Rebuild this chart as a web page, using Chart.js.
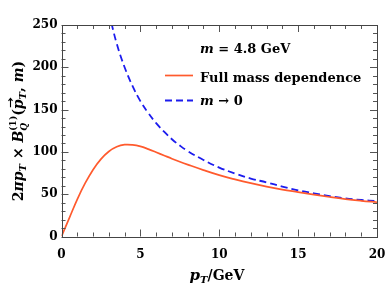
<!DOCTYPE html>
<html><head><meta charset="utf-8">
<script src="https://cdn.jsdelivr.net/npm/chart.js@4"></script>
<style>html,body{margin:0;padding:0;background:#fff}#wrap{width:386px;height:289px}</style>
</head><body><div id="wrap"><canvas id="c" width="386" height="289"></canvas></div>
<script>
// ---- data ----
const pTFull   = [0, 0.5, 1, 1.5, 2, 2.5, 3, 3.5, 4, 4.5, 5, 5.5, 6, 6.5, 7, 7.5, 8, 9, 10, 11, 12, 13, 14, 15, 16, 17, 18, 19, 20];
const fullMass = [0, 22, 44, 63, 79, 91.5, 100.5, 106, 108.5, 108.3, 106.5, 103.3, 99.6, 95.8, 92, 88.4, 85, 78.5, 72.5, 67.5, 63, 59, 55.5, 52.5, 49.5, 46.7, 44.2, 42.2, 40.5];
const pTZero   = [3, 3.5, 4, 4.5, 5, 5.5, 6, 6.5, 7, 7.5, 8, 9, 10, 11, 12, 13, 14, 15, 16, 17, 18, 19, 20];
const massless = [265, 228, 200, 178, 160, 146, 134, 124, 115, 107.5, 101, 90.5, 81.5, 74.5, 68.5, 64, 59, 54.5, 51, 47.7, 45, 43.2, 41.7];
const xTickValues = [0, 5, 10, 15, 20];
const yTickValues = [0, 50, 100, 150, 200, 250];
const seriesNames = ['Full mass dependence', 'm → 0'];
const massLabel = 'm = 4.8 GeV';

const RED = '#ff5a2d', BLUE = '#1c1cee';
const SERIF = "'DejaVu Serif'";

function drawRich(ctx, segs, x, y, align) {
  let total = 0;
  const widths = segs.map(s => {
    if (s.stack) {
      let w = 0;
      s.stack.forEach(p => { ctx.font = p.font; w = Math.max(w, ctx.measureText(p.t).width); });
      return w;
    }
    ctx.font = s.font; return ctx.measureText(s.t).width;
  });
  widths.forEach(w => total += w);
  let cx = align === 'center' ? x - total / 2 : x;
  ctx.textBaseline = 'alphabetic';
  ctx.textAlign = 'left';
  segs.forEach((s, i) => {
    if (s.stack) {
      s.stack.forEach(p => { ctx.font = p.font; ctx.fillText(p.t, cx, y + (p.dy || 0)); });
    } else {
      ctx.font = s.font;
      ctx.fillText(s.t, cx + (s.dx || 0), y + (s.dy || 0));
      if (s.arrow) {
        const w = widths[i];
        const ay = y - 12, ax0 = cx + 2, ax1 = cx + w + 1;
        ctx.save(); ctx.lineWidth = 1.1; ctx.beginPath();
        ctx.moveTo(ax0, ay); ctx.lineTo(ax1, ay);
        ctx.moveTo(ax1 - 2.5, ay - 2); ctx.lineTo(ax1, ay); ctx.lineTo(ax1 - 2.5, ay + 2);
        ctx.stroke(); ctx.restore();
      }
    }
    cx += widths[i];
  });
  return total;
}

const decor = {
  id: 'decor',
  afterDraw(chart) {
    const ctx = chart.ctx, a = chart.chartArea;
    const xs = chart.scales.x, ys = chart.scales.y;
    ctx.save();
    ctx.strokeStyle = '#555'; ctx.lineWidth = 1;
    ctx.beginPath();
    for (let v = 0; v <= 20; v++) {
      const px = Math.round(xs.getPixelForValue(v)) + 0.5;
      const len = v % 5 === 0 ? 7 : 4;
      ctx.moveTo(px, a.bottom); ctx.lineTo(px, a.bottom - len);
      ctx.moveTo(px, a.top); ctx.lineTo(px, a.top + len);
    }
    for (let v = 0; v <= 250; v += 10) {
      const py = Math.round(ys.getPixelForValue(v)) + 0.5;
      const len = v % 50 === 0 ? 7 : 4;
      ctx.moveTo(a.left, py); ctx.lineTo(a.left + len, py);
      ctx.moveTo(a.right, py); ctx.lineTo(a.right - len, py);
    }
    ctx.stroke();
    ctx.strokeStyle = '#444';
    ctx.strokeRect(Math.round(a.left) + 0.5, Math.round(a.top) + 0.5,
                   Math.round(a.right) - Math.round(a.left), Math.round(a.bottom) - Math.round(a.top));

    ctx.fillStyle = '#000'; ctx.strokeStyle = '#000';
    const BI = s => `bold italic ${s}px ${SERIF}`, B = s => `bold ${s}px ${SERIF}`;
    drawRich(ctx, [
      {t: 'p', font: BI(15)},
      {t: 'T', font: BI(10), dy: 3},
      {t: '/GeV', font: B(14)}
    ], 217, 280, 'center');

    ctx.save();
    ctx.translate(22.5, 131);
    ctx.rotate(-Math.PI / 2);
    drawRich(ctx, [
      {t: '2', font: B(14)},
      {t: 'πp', font: BI(14)},
      {t: 'T', font: BI(10), dy: 3},
      {t: ' × ', font: B(14)},
      {t: 'B', font: BI(14)},
      {stack: [{t: '(1)', font: B(9), dy: -7}, {t: 'Q', font: BI(9), dy: 4}]},
      {t: '(', font: B(14)},
      {t: 'p', font: BI(14), arrow: true},
      {t: 'T', font: BI(10), dy: 3},
      {t: ', ', font: B(14)},
      {t: 'm', font: BI(14)},
      {t: ')', font: B(14)}
    ], 0, 0, 'center');
    ctx.restore();

    const lx = 200;
    const mParts = massLabel.split(' ');
    drawRich(ctx, [
      {t: mParts[0], font: BI(13)},
      {t: ' ' + mParts.slice(1).join(' '), font: B(13)}
    ], lx, 52.5, 'left');
    chart.data.datasets.forEach((ds, i) => {
      const y = i === 0 ? 75.5 : 100.5;
      ctx.save();
      ctx.strokeStyle = ds.borderColor; ctx.lineWidth = ds.borderWidth;
      ctx.setLineDash(ds.borderDash || []);
      ctx.beginPath(); ctx.moveTo(165, y); ctx.lineTo(193, y); ctx.stroke();
      ctx.restore();
    });
    ctx.fillStyle = '#000';
    drawRich(ctx, [{t: seriesNames[0], font: B(13)}], lx, 81.5, 'left');
    const nm = seriesNames[1].split(' ');
    drawRich(ctx, [
      {t: nm[0], font: BI(13)},
      {t: ' ' + nm.slice(1).join(' '), font: B(13)}
    ], lx, 105, 'left');
    ctx.restore();
  }
};

new Chart(document.getElementById('c'), {
  type: 'line',
  data: {
    datasets: [
      {label: seriesNames[0], data: pTFull.map((x, i) => ({x, y: fullMass[i]})),
       borderColor: RED, borderWidth: 1.7, pointRadius: 0, fill: false, tension: 0.4},
      {label: seriesNames[1], data: pTZero.map((x, i) => ({x, y: massless[i]})),
       borderColor: BLUE, borderWidth: 1.8, borderDash: [7, 4], pointRadius: 0, fill: false, tension: 0.4}
    ]
  },
  options: {
    responsive: false, animation: false, devicePixelRatio: 1,
    layout: {padding: {top: 25, right: 0, left: 0, bottom: 0}},
    plugins: {legend: {display: false}, tooltip: {enabled: false}},
    scales: {
      x: {type: 'linear', min: 0, max: 20,
          afterBuildTicks(s) { s.ticks = xTickValues.map(v => ({value: v})); },
          ticks: {color: '#000', padding: 11, maxRotation: 0, font: {family: 'DejaVu Serif', weight: 'bold', size: 12}},
          grid: {display: false, drawTicks: false}, border: {display: false},
          afterFit(s) { s.height = 52.5; s.paddingLeft = 0; s.paddingRight = 9; }},
      y: {type: 'linear', min: 0, max: 250,
          afterBuildTicks(s) { s.ticks = yTickValues.map(v => ({value: v})); },
          ticks: {color: '#000', padding: 4, font: {family: 'DejaVu Serif', weight: 'bold', size: 12}},
          grid: {display: false, drawTicks: false}, border: {display: false},
          afterFit(s) { s.width = 61.5; s.paddingTop = 0; s.paddingBottom = 0; }}
    }
  },
  plugins: [decor]
});
</script></body></html>
